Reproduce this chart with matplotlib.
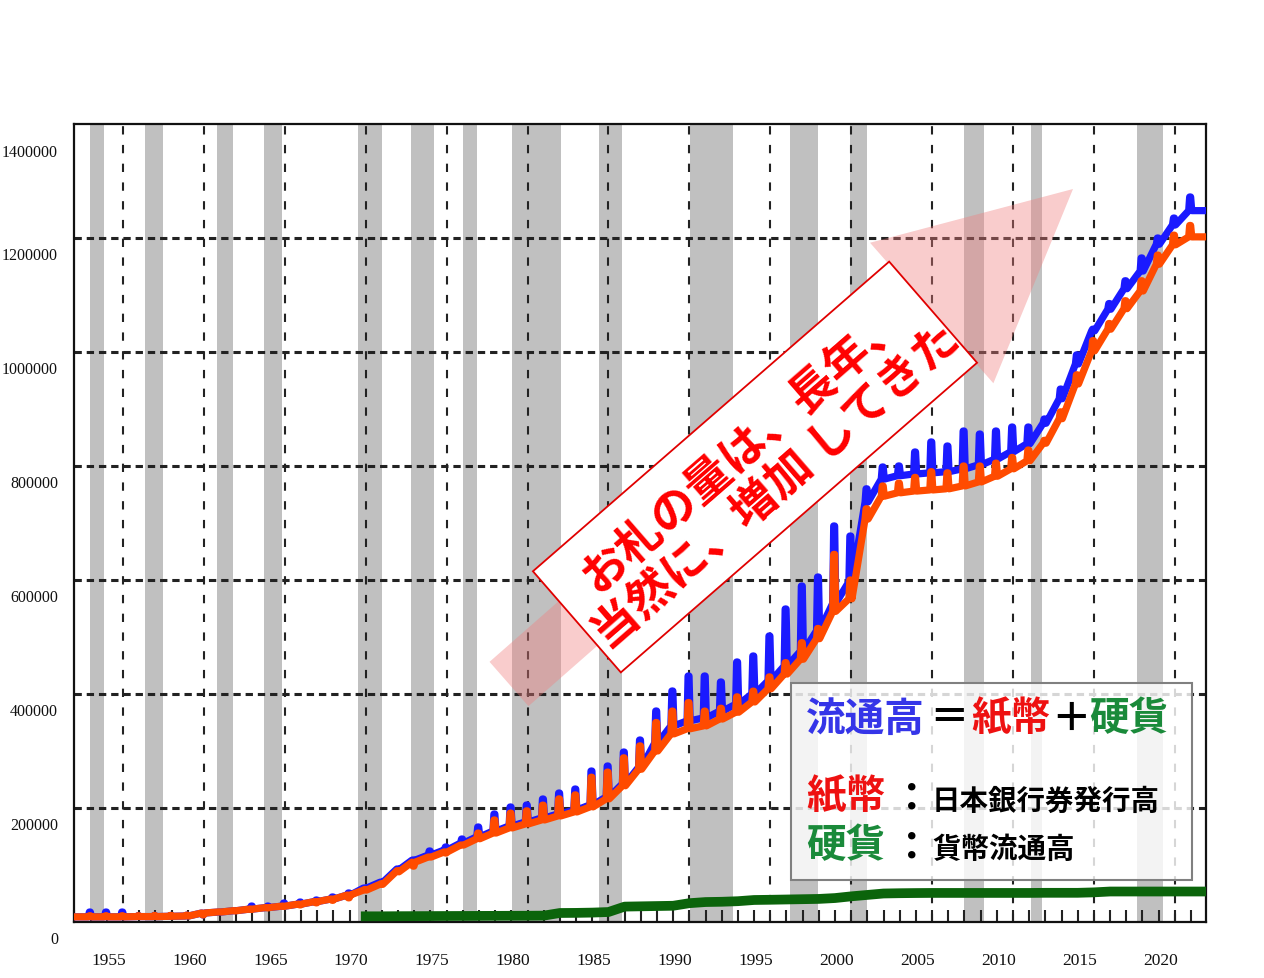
import numpy as np
import matplotlib.pyplot as plt
from matplotlib.patches import FancyArrow, Polygon, Rectangle
from matplotlib.ticker import FixedLocator, MultipleLocator
from matplotlib.transforms import ScaledTranslation

plt.rcParams['font.family'] = ['Noto Sans CJK JP', 'DejaVu Sans']

# ---- data (億円) ----
years = np.arange(1953, 2023)

# 日本銀行券発行高: level in the year, and the December spike (1953-2021)
note_base = [9000, 9000, 9000, 9000, 9500, 9500, 10000, 10500, 15800, 17500,
             20000, 22800, 25400, 28000, 31600, 36000, 40400, 47400, 56000, 66000,
             88000, 105000, 114000, 123000, 135000, 146000, 156000, 165000, 172000, 179000,
             186000, 193000, 202000, 216000, 239000, 268000, 300000, 330000, 339000, 344000,
             356000, 368000, 386000, 409000, 435000, 461000, 497000, 545000, 567000, 707000,
             747000, 753000, 756000, 758000, 760000, 765000, 772000, 782000, 795000, 809000,
             840000, 883000, 944000, 1002000, 1040000, 1076000, 1107000, 1154000, 1188000, 1202000]
note_peak = [11000, 11000, 11000, 11000, 11500, 11500, 12000, 12500, 17800, 19500,
             22000, 24800, 27400, 30000, 33600, 38000, 42400, 57000, 67000, 90000,
             98000, 114000, 121000, 135000, 156000, 179000, 191000, 195000, 205000, 216000,
             223000, 254000, 263000, 288000, 309000, 350000, 370000, 385000, 370000, 375000,
             395000, 405000, 430000, 455000, 490000, 515000, 645000, 600000, 725000, 765000,
             770000, 780000, 790000, 788000, 800000, 800000, 805000, 815000, 828000, 845000,
             895000, 960000, 1020000, 1050000, 1090000, 1125000, 1170000, 1205000, 1222000]

# 流通高 (total)
total_base = [9000, 9000, 9000, 9000, 9500, 9500, 10000, 10500, 15800, 17500,
              20000, 22800, 25400, 28000, 31600, 36000, 40400, 47400, 59500, 69500,
              91500, 108500, 117500, 126500, 138500, 149500, 159500, 168500, 175500, 182500,
              189500, 196500, 205500, 219500, 242500, 271500, 314000, 344000, 353000, 358000,
              370000, 382000, 400000, 423000, 449000, 475000, 511000, 559000, 597000, 737000,
              777000, 783000, 786000, 788000, 790000, 795000, 802000, 812000, 825000, 839000,
              875000, 918000, 979000, 1037000, 1075000, 1111000, 1142000, 1189000, 1223000, 1248000]
total_peak = [17500, 17500, 17500, 11000, 11500, 11500, 12000, 12500, 17500, 20000,
              28000, 28000, 33300, 35000, 38600, 43900, 50900, 59700, 70000, 93000,
              108800, 124600, 131600, 145600, 166700, 189500, 201800, 205300, 215800, 226300,
              233300, 264900, 273700, 298200, 319300, 370200, 405300, 431600, 431600, 421100,
              456200, 466700, 501800, 549200, 589500, 605300, 694800, 677200, 760000, 798300,
              800100, 824600, 842200, 835100, 861400, 856100, 861400, 868400, 868400, 882500,
              935000, 995000, 1040000, 1085000, 1125000, 1165000, 1200000, 1235000, 1272000]

# 貨幣流通高 (coins), January of each year
coin_years = np.arange(1971, 2023)
coin = [10000, 10000, 10200, 10300, 10400, 10500, 10600, 10700, 10800, 10900,
        11000, 11200, 15800, 16000, 16500, 17500, 27000, 27500, 28000, 28500,
        33000, 35000, 35500, 36500, 38600, 39000, 39500, 40000, 40500, 42000,
        45000, 47500, 50000, 50500, 50800, 51000, 51000, 51000, 51000, 51000,
        51000, 51000, 51200, 51200, 51200, 52000, 53500, 53500, 53500, 53500,
        53500, 53500]

# shaded periods (recessions)
recessions = [(1953.96, 1954.83), (1957.36, 1958.47), (1961.8, 1962.8), (1964.7, 1965.8),
              (1970.5, 1972.0), (1973.8, 1975.2), (1977.0, 1977.85), (1980.05, 1983.07),
              (1985.4, 1986.85), (1991.05, 1993.7), (1997.2, 1998.95), (2000.9, 2001.98),
              (2008.0, 2009.2), (2012.1, 2012.8), (2018.65, 2020.3)]

ytick_vals = [0, 200000, 400000, 600000, 800000, 1000000, 1200000, 1400000]
xlabel_years = np.arange(1955, 2021, 5)
grid_years = xlabel_years + 1


def sawtooth(base, peak):
    xs, ys = [years[0]], [base[0]]
    for i, yr in enumerate(years[:-1]):
        xs += [yr + 0.86, yr + 0.92, yr + 0.98, yr + 1.05]
        ys += [base[i + 1], peak[i], peak[i], base[i + 1]]
    xs.append(years[-1] + 0.75)
    ys.append(base[-1])
    return xs, ys


fig = plt.figure(figsize=(12.64, 9.79), dpi=100)
ax = fig.add_axes([74 / 1264, 1 - 923 / 979, 1132 / 1264, 798 / 979])

for a, b in recessions:
    ax.axvspan(a, b, color='#c0c0c0', lw=0, zorder=0.2)

ax.set_axisbelow(True)
ax.xaxis.set_major_locator(FixedLocator(grid_years))
ax.xaxis.set_minor_locator(MultipleLocator(1))
ax.yaxis.set_major_locator(FixedLocator(ytick_vals[1:-1]))
ax.xaxis.grid(True, color='#222222', lw=1.5, linestyle=(0, (4, 5)))
ax.yaxis.grid(True, color='#222222', lw=2.2, linestyle=(0, (2.4, 1.6)))

tx, ty = sawtooth(total_base, total_peak)
ax.plot(tx, ty, color='#1a1aff', lw=5.2, zorder=3, solid_joinstyle='round')
nx, ny = sawtooth(note_base, note_peak)
ax.plot(nx, ny, color='#ff4b00', lw=5.2, zorder=4, solid_joinstyle='round')
ax.plot(list(coin_years) + [2022.75], coin + [coin[-1]], color='#0b640b', lw=7, zorder=3)

ax.set_xlim(1952.97, 2022.93)
ax.set_ylim(0, 1400000)
ax.tick_params(axis='y', left=False, labelleft=False)
ax.tick_params(axis='x', which='both', direction='in', length=9, width=1.5,
               color='#222222', labelbottom=False)
for s in ax.spines.values():
    s.set_linewidth(1.6)
    s.set_color('#111111')

num_font = dict(family='Liberation Serif', fontsize=11.5, color='#111111')
for v in ytick_vals:
    drop = 0.28 if v == 1400000 else 0.17
    ax.text(-0.0141, v, str(v), ha='right', va='center',
            transform=ax.get_yaxis_transform() + ScaledTranslation(0, -drop, fig.dpi_scale_trans),
            **num_font)
for yr in xlabel_years:
    ax.text(yr + 0.1, -0.047, str(yr), ha='center', va='center',
            transform=ax.get_xaxis_transform(), fontsize=12.5,
            family='Liberation Serif', color='#111111')

# ---- overlay (pixel coordinates) ----
ov = fig.add_axes([0, 0, 1, 1], zorder=5)
ov.set_xlim(0, 1264)
ov.set_ylim(979, 0)
ov.axis('off')

ov.add_patch(FancyArrow(509, 685, 564, -495, width=59, head_width=187, head_length=188,
                        length_includes_head=True, color='#f08080', alpha=0.4, lw=0))

ang = np.deg2rad(41)
u = np.array([np.cos(ang), -np.sin(ang)])
w = np.array([np.sin(ang), np.cos(ang)])
c = np.array([755, 468])
L, W = 472, 134
corners = [c - u * L / 2 - w * W / 2, c + u * L / 2 - w * W / 2,
           c + u * L / 2 + w * W / 2, c - u * L / 2 + w * W / 2]
ov.add_patch(Polygon(corners, closed=True, facecolor='white', edgecolor='#e00000', lw=1.3))
ov.text(760, 468, 'お札の量は、長年、\n当然に、増加 してきた', rotation=41,
        ha='center', va='center', color='#ff0000', fontsize=33, fontweight='bold',
        linespacing=1.15)

ov.add_patch(Rectangle((791, 684), 401, 197, facecolor=(1, 1, 1, 0.82),
                       edgecolor='#808080', lw=1.5))
big = dict(fontsize=28.5, fontweight='bold', va='center', ha='left')
small = dict(fontsize=20.5, fontweight='bold', va='center', ha='left', color='black')
ov.text(806, 719, '流通高', color='#3535e8', **big)
ov.text(929, 719, '＝', color='black', **big)
ov.text(971, 719, '紙幣', color='#ee1111', **big)
ov.text(1051, 719, '＋', color='black', **big)
ov.text(1089, 719, '硬貨', color='#1a8a3a', **big)
ov.text(806, 797, '紙幣', color='#ee1111', **big)
ov.text(892, 799, '：', color='black', **big)
ov.text(932, 802, '日本銀行券発行高', **small)
ov.text(806, 846, '硬貨', color='#1a8a3a', **big)
ov.text(892, 848, '：', color='black', **big)
ov.text(932, 850, '貨幣流通高', **small)

fig.savefig('out.png', dpi=100)
